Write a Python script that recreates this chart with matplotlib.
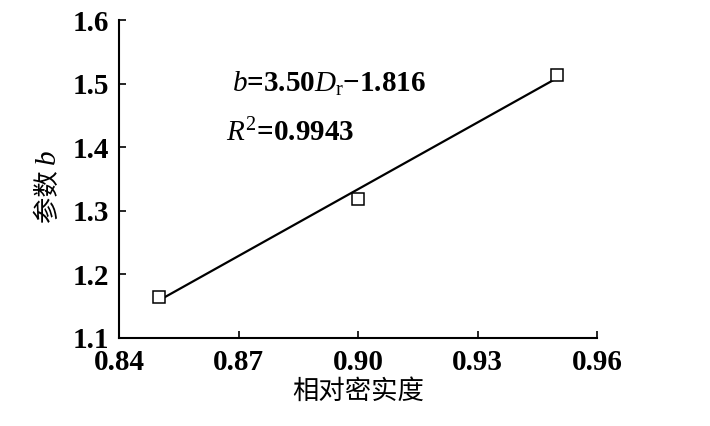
import matplotlib
matplotlib.use("Agg")
import matplotlib.pyplot as plt
import numpy as np

plt.rcParams['font.family'] = ['Liberation Serif', 'Noto Sans CJK SC']
plt.rcParams['mathtext.fontset'] = 'custom'
plt.rcParams['mathtext.rm'] = 'Liberation Serif'
plt.rcParams['mathtext.it'] = 'Liberation Serif:italic'
plt.rcParams['mathtext.bf'] = 'Liberation Serif:bold'

# 数据
dr = [0.85, 0.90, 0.95]
b_vals = [1.164, 1.318, 1.513]
slope = 3.50
intercept = -1.816
xticks = [0.84, 0.87, 0.90, 0.93, 0.96]
yticks = [1.1, 1.2, 1.3, 1.4, 1.5, 1.6]

fig = plt.figure(figsize=(7.1, 4.26), dpi=100)
ax = fig.add_axes([0.1676, 0.2066, 0.6735, 0.7464])

fit_x = np.array([dr[0], dr[-1]])
ax.plot(fit_x, slope * fit_x + intercept, color='black', lw=1.6)
ax.plot(dr, b_vals, ls='none', marker='s', ms=8.5, mfc='white', mec='black', mew=1.1)

ax.set_xlim(0.84, 0.96)
ax.set_ylim(1.1, 1.6)
ax.set_xticks(xticks)
ax.set_yticks(yticks)
ax.set_xticklabels(['%.2f' % v for v in xticks])
ax.set_yticklabels(['%.1f' % v for v in yticks])
ax.tick_params(direction='in', length=5, width=1.2, labelsize=21)
ax.tick_params(axis='x', pad=8)
ax.tick_params(axis='y', pad=7)
for lab in ax.get_xticklabels() + ax.get_yticklabels():
    lab.set_fontweight('bold')
for s in ['top', 'right']:
    ax.spines[s].set_visible(False)
for s in ['left', 'bottom']:
    ax.spines[s].set_linewidth(1.5)

ax.set_xlabel('相对密实度', fontsize=19, labelpad=2)

# y 轴标题：中文 + 斜体 b
fig.text(0.067, 0.540, '参数', rotation=90, fontsize=19, ha='center', va='center')
fig.text(0.067, 0.632, 'b', rotation=90, fontsize=21, style='italic', ha='center', va='center')

ax.text(0.8684, 1.487, r'$b$=3.50$D_\mathrm{r}$−1.816', fontsize=21, fontweight='bold')
ax.text(0.8668, 1.410, r'$R^2$=0.9943', fontsize=21, fontweight='bold')

fig.savefig('out.png', dpi=100)
